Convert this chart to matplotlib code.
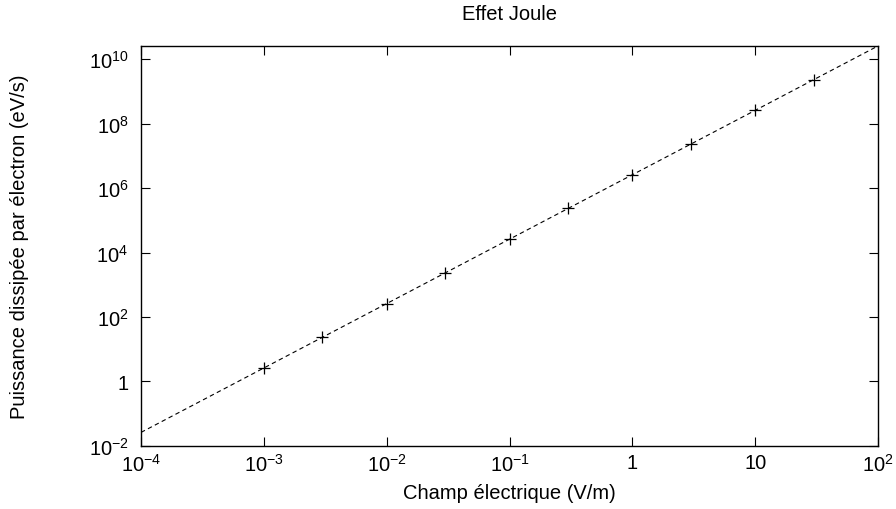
import matplotlib.pyplot as plt
from matplotlib.ticker import FixedLocator, FixedFormatter, NullLocator

plt.rcParams['font.family'] = ['Liberation Sans', 'DejaVu Sans']
plt.rcParams['mathtext.fontset'] = 'custom'
plt.rcParams['mathtext.rm'] = 'Liberation Sans'

# measured points
champ = [1e-3, 3e-3, 1e-2, 3e-2, 1e-1, 3e-1, 1, 3, 10, 30]
puissance = [2.6, 23.4, 260, 2340, 2.6e4, 2.34e5, 2.6e6, 2.34e7, 2.6e8, 2.34e9]

# fitted law P = k * E^2
k_fit = 2.6e6
fit_x = [1e-4, 1e-3, 1e-2, 1e-1, 1, 10, 1e2]
fit_y = [k_fit * e ** 2 for e in fit_x]

xticks = [1e-4, 1e-3, 1e-2, 1e-1, 1, 10, 1e2]
xlabels = [r'$10^{-4}$', r'$10^{-3}$', r'$10^{-2}$', r'$10^{-1}$', '1', '10', r'$10^{2}$']
yticks = [1e-2, 1, 1e2, 1e4, 1e6, 1e8, 1e10]
ylabels = [r'$10^{-2}$', '1', r'$10^{2}$', r'$10^{4}$', r'$10^{6}$', r'$10^{8}$', r'$10^{10}$']

fig = plt.figure(figsize=(8.96, 5.10), dpi=100)
ax = fig.add_axes([0.1574, 0.124, 0.8226, 0.784])

ax.plot(fit_x, fit_y, color='black', linestyle=(0, (4, 3)), linewidth=0.8)
ax.plot(champ, puissance, linestyle='none', marker='+', markersize=8,
        markeredgewidth=0.9, color='black')

ax.set_xscale('log')
ax.set_yscale('log')
ax.set_xlim(1e-4, 1e2)
ax.set_ylim(1e-2, fit_y[-1])

ax.xaxis.set_major_locator(FixedLocator(xticks))
ax.xaxis.set_major_formatter(FixedFormatter(xlabels))
ax.yaxis.set_major_locator(FixedLocator(yticks))
ax.yaxis.set_major_formatter(FixedFormatter(ylabels))
ax.xaxis.set_minor_locator(NullLocator())
ax.yaxis.set_minor_locator(NullLocator())

ax.tick_params(direction='in', length=6.5, width=0.8, top=True, right=True,
               labelsize=14.5, colors='black')
ax.tick_params(axis='x', pad=5)
ax.tick_params(axis='y', pad=9)
for s in ax.spines.values():
    s.set_linewidth(1.0)

fig.text(0.5685, 1 - 14 / 510, 'Effet Joule', fontsize=14.5, ha='center', va='center')
ax.set_xlabel('Champ électrique (V/m)', fontsize=14.5)
ax.set_ylabel('Puissance dissipée par électron (eV/s)', fontsize=14.5)
ax.xaxis.set_label_coords(0.5, -0.118)
ax.yaxis.set_label_coords(-0.165, 0.5)
ax.xaxis.label.set_va('center')
ax.yaxis.label.set_va('center')

fig.savefig('out.png', dpi=100)
